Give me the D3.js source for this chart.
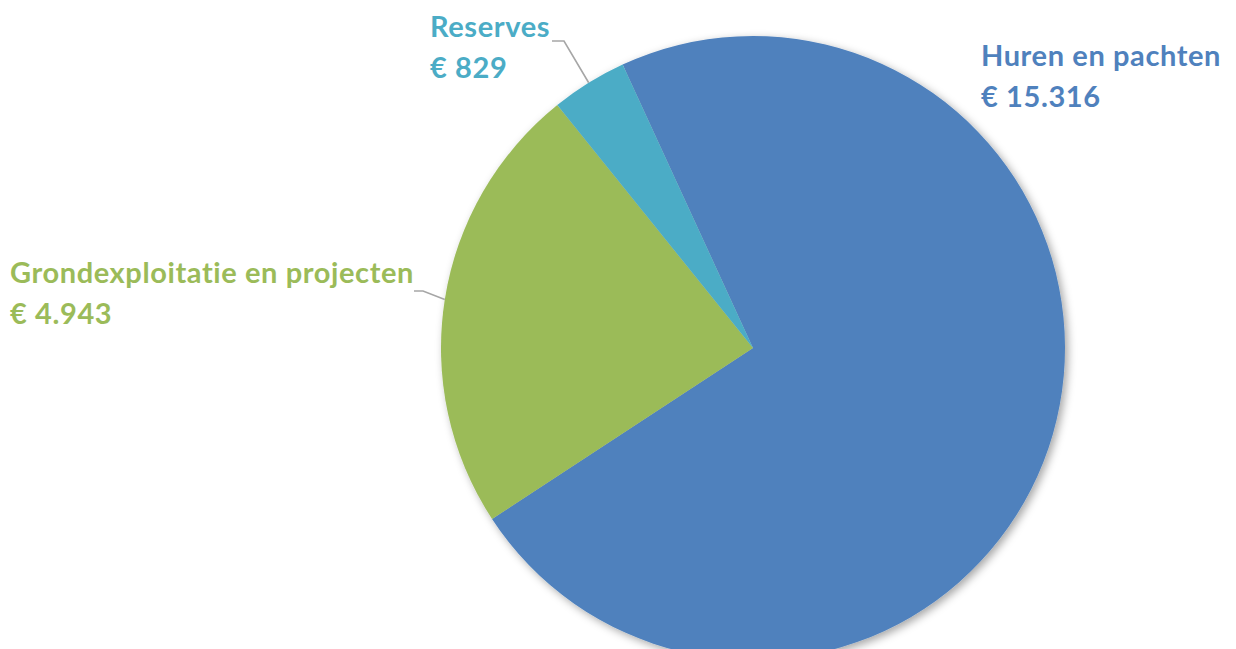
<!DOCTYPE html>
<html><head><meta charset="utf-8">
<script src="https://cdn.jsdelivr.net/npm/d3@7"></script>
<style>html,body{margin:0;padding:0;background:#fff;overflow:hidden}</style>
</head><body>
<svg id="c" width="1236" height="649"></svg>
<script>
const categories = ["Huren en pachten", "Grondexploitatie en projecten", "Reserves"];
const values = [15316, 4943, 829];
const valueLabels = ["€ 15.316", "€ 4.943", "€ 829"];
const colors = ["#4F81BD", "#9BBB59", "#4BACC6"];

const svg = d3.select("#c");
const cx = 753, cy = 348, R = 312;
const startDeg = -24.7;

const defs = svg.append("defs");
const f = defs.append("filter").attr("id","sh").attr("x","-20%").attr("y","-20%").attr("width","140%").attr("height","140%");
f.append("feDropShadow").attr("dx",3).attr("dy",3).attr("stdDeviation",4).attr("flood-color","#000").attr("flood-opacity",0.35);

const pie = d3.pie().sort(null).value(d => d)
  .startAngle(startDeg*Math.PI/180).endAngle(startDeg*Math.PI/180 + 2*Math.PI);
const arcs = pie(values);
const arc = d3.arc().innerRadius(0).outerRadius(R);

const g = svg.append("g").attr("transform",`translate(${cx},${cy})`);
g.append("g").attr("filter","url(#sh)")
 .selectAll("path").data(arcs).enter().append("path")
 .attr("d", arc).attr("fill",(d,i)=>colors[i]);

// labels
const labelPos = [
  {x:981, y1:66, y2:107, leader:null},
  {x:10, y1:283, y2:324, leader:{elbow:[423,291], end:[414,291]}},
  {x:430, y1:37, y2:78, leader:{elbow:[564,41], end:[552,41]}}
];
arcs.forEach((d,i)=>{
  const p = labelPos[i];
  if (p.leader) {
    const a = (d.startAngle+d.endAngle)/2;
    const px = cx + R*Math.sin(a), py = cy - R*Math.cos(a);
    svg.append("polyline")
      .attr("points", `${px},${py} ${p.leader.elbow[0]},${p.leader.elbow[1]} ${p.leader.end[0]},${p.leader.end[1]}`)
      .attr("fill","none").attr("stroke","#a6a6a6").attr("stroke-width",1.6);
  }
  const t = svg.append("text").attr("fill",colors[i])
    .attr("font-family","Lato, 'Open Sans', sans-serif").attr("font-weight","bold")
    .attr("font-size",29).attr("letter-spacing",0.6);
  t.append("tspan").attr("x",p.x).attr("y",p.y1).text(categories[i]);
  t.append("tspan").attr("x",p.x).attr("y",p.y2).text(valueLabels[i]);
});
</script>
</body></html>
